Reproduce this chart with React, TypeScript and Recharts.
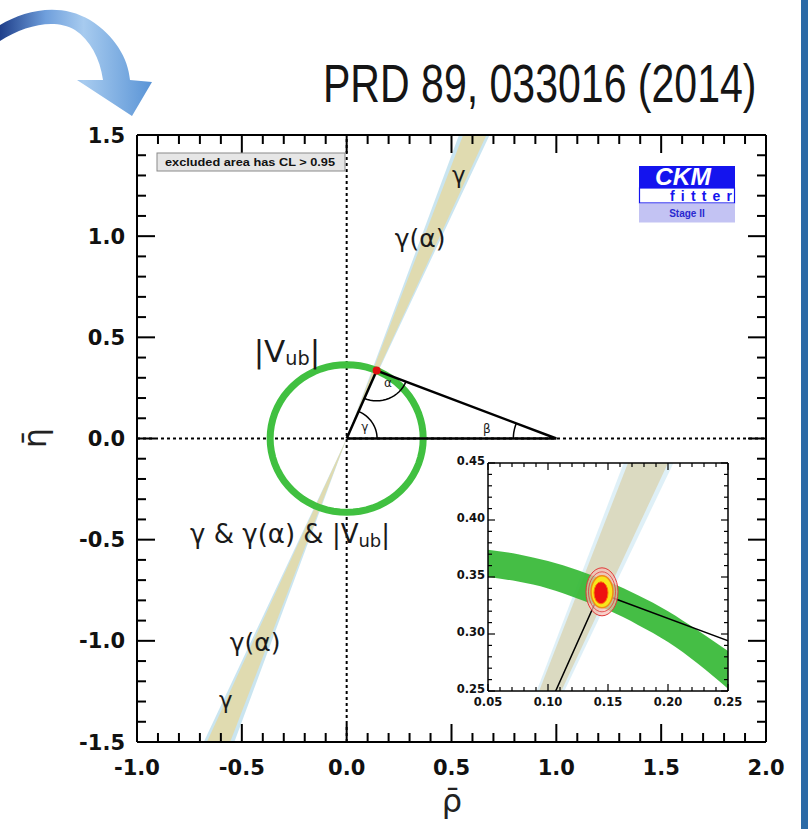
import React from "react"
import { ComposedChart, Area, Line, XAxis, YAxis, ReferenceLine, ReferenceDot, CartesianGrid } from "recharts"

// axis ticks (major every 0.5 / 0.05, minor every 0.1 / 0.01)
const rhoTicks = [-1.0, -0.9, -0.8, -0.7, -0.6, -0.5, -0.4, -0.3, -0.2, -0.1, 0.0, 0.1, 0.2, 0.3, 0.4, 0.5, 0.6, 0.7, 0.8, 0.9, 1.0, 1.1, 1.2, 1.3, 1.4, 1.5, 1.6, 1.7, 1.8, 1.9, 2.0]
const etaTicks = [-1.5, -1.4, -1.3, -1.2, -1.1, -1.0, -0.9, -0.8, -0.7, -0.6, -0.5, -0.4, -0.3, -0.2, -0.1, 0.0, 0.1, 0.2, 0.3, 0.4, 0.5, 0.6, 0.7, 0.8, 0.9, 1.0, 1.1, 1.2, 1.3, 1.4, 1.5]
const insetRhoTicks = [0.05, 0.06, 0.07, 0.08, 0.09, 0.1, 0.11, 0.12, 0.13, 0.14, 0.15, 0.16, 0.17, 0.18, 0.19, 0.2, 0.21, 0.22, 0.23, 0.24, 0.25]
const insetEtaTicks = [0.25, 0.26, 0.27, 0.28, 0.29, 0.3, 0.31, 0.32, 0.33, 0.34, 0.35, 0.36, 0.37, 0.38, 0.39, 0.4, 0.41, 0.42, 0.43, 0.44, 0.45]

// unitarity triangle apex and |Vub| ring
const apex = { rho: 0.143, eta: 0.336 }
const vubRadius = 0.365

// gamma wedge through the origin: eta range [low, high] at given rho
const gammaBandRho = [-0.8, 0, 0.8]
const gammaBandOuter = [[-2.24, -1.76], [0, 0], [1.76, 2.24]]
const gammaAlphaBand = [[-2.16, -1.8], [0, 0], [1.8, 2.16]]

// inset: |Vub| band and gamma wedge
const insetVubRho = [0.05, 0.075, 0.1, 0.125, 0.15, 0.175, 0.2, 0.225, 0.25]
const insetVubLow = [0.350, 0.346, 0.340, 0.331, 0.321, 0.308, 0.293, 0.274, 0.252]
const insetVubHigh = [0.374, 0.370, 0.364, 0.356, 0.346, 0.334, 0.320, 0.303, 0.285]
const insetBandRho = [0.08, 0.22]
const insetBandOuter = [[0.176, 0.221], [0.484, 0.607]]
const insetBandInner = [[0.18, 0.216], [0.495, 0.594]]

const ring = Array.from({ length: 73 }, (_, i) => {
  const a = (i / 72) * 2 * Math.PI
  return { rho: vubRadius * Math.cos(a), eta: vubRadius * Math.sin(a) }
})

const arc = (cRho: number, cEta: number, r: number, a0: number, a1: number) =>
  Array.from({ length: 17 }, (_, i) => {
    const a = ((a0 + ((a1 - a0) * i) / 16) * Math.PI) / 180
    return { rho: cRho + r * Math.cos(a), eta: cEta + r * Math.sin(a) }
  })

const dirO = (Math.atan2(-apex.eta, -apex.rho) * 180) / Math.PI + 360
const dirB = (Math.atan2(-apex.eta, 1 - apex.rho) * 180) / Math.PI + 360
const gammaArc = arc(0, 0, 0.145, 0, (Math.atan2(apex.eta, apex.rho) * 180) / Math.PI)
const alphaArc = arc(apex.rho, apex.eta, 0.15, dirO, dirB)
const betaArc = arc(1, 0, 0.205, 180 - (Math.atan2(apex.eta, 1 - apex.rho) * 180) / Math.PI, 180)

const triangle = [{ rho: 0, eta: 0 }, apex, { rho: 1, eta: 0 }, { rho: 0, eta: 0 }]

const toBand = (xs: number[], ys: number[][]) => xs.map((rho, i) => ({ rho, band: ys[i] }))
const mainOuter = toBand(gammaBandRho, gammaBandOuter)
const mainInner = toBand(gammaBandRho, gammaAlphaBand)
const insetOuter = toBand(insetBandRho, insetBandOuter)
const insetInner = toBand(insetBandRho, insetBandInner)
const insetVub = insetVubRho.map((rho, i) => ({ rho, band: [insetVubLow[i], insetVubHigh[i]] }))

const isMajor = (v: number, step: number) => Math.abs(v / step - Math.round(v / step)) < 1e-6

// ticks point inwards; axis boxes are 1px so the tick anchor sits on the frame
function makeTick(side: string, step: number, long: number, short: number, sw: number, font: number, digits: number, gap: number, lift = 0) {
  return (p: any) => {
    const v = p.payload.value
    const big = isMajor(v, step)
    const len = big ? long : short
    let x2 = p.x
    let y2 = p.y
    if (side === "bottom") y2 = p.y - len
    if (side === "top") y2 = p.y + len
    if (side === "left") x2 = p.x + len
    if (side === "right") x2 = p.x - len
    const txt = { fontFamily: "DejaVu Sans", fontWeight: 700, fontSize: font, fill: "#111" }
    return (
      <g>
        <line x1={p.x} y1={p.y} x2={x2} y2={y2} stroke="#000" strokeWidth={sw} />
        {big && font > 0 && side === "bottom" && (
          <text x={p.x} y={p.y + gap} textAnchor="middle" {...txt}>{v.toFixed(digits)}</text>
        )}
        {big && font > 0 && side === "left" && (
          <text x={p.x - gap} y={p.y + font * 0.36 - lift} textAnchor="end" {...txt}>{v.toFixed(digits)}</text>
        )}
      </g>
    )
  }
}

const label = (node: React.ReactNode, size: number) => (p: any) => (
  <text x={p.cx} y={p.cy} textAnchor="middle" dominantBaseline="central" fontFamily="DejaVu Sans" fontSize={size} fill="#1a1a1a">
    {node}
  </text>
)

const vub = (size: number) => (
  <>
    |V<tspan fontSize={size * 0.62} dy={size * 0.22}>ub</tspan>
    <tspan dy={-size * 0.22}>|</tspan>
  </>
)

const contourShape = (p: any) => (
  <g>
    <ellipse cx={p.cx} cy={p.cy} rx={16} ry={24} fill="#f6bdb4" fillOpacity={0.7} stroke="#e03a3a" strokeWidth={1} />
    <ellipse cx={p.cx} cy={p.cy} rx={13.5} ry={20} fill="none" stroke="#e03a3a" strokeWidth={0.8} />
    <ellipse cx={p.cx} cy={p.cy} rx={11} ry={16} fill="#f7e61c" stroke="#f08a1a" strokeWidth={1.5} />
    <ellipse cx={p.cx - 1} cy={p.cy + 1} rx={7} ry={11} fill="#ee1111" stroke="#ff7a00" strokeWidth={1} />
  </g>
)

const frame = { stroke: "#000", strokeWidth: 2 }
const insetFrame = { stroke: "#000", strokeWidth: 1.5 }

export default function App() {
  return (
    <div style={{ position: "absolute", left: 0, top: 0, width: 808, height: 829, background: "#fff", overflow: "hidden" }}>
      <svg width={808} height={829} style={{ position: "absolute", left: 0, top: 0 }}>
        <defs>
          <linearGradient id="arrowGrad" x1="0" y1="0" x2="1" y2="0">
            <stop offset="0" stopColor="#1f3f8a" />
            <stop offset="0.3" stopColor="#6f9fdc" />
            <stop offset="0.55" stopColor="#a7cbef" />
            <stop offset="1" stopColor="#5a94d6" />
          </linearGradient>
        </defs>
        <path d="M0,25 C25,10 60,2 90,20 C115,36 128,58 130,80 L152,82 L132,116 L77,80 L103,80 C100,58 90,40 75,30 C55,18 25,25 0,41 Z" fill="url(#arrowGrad)" />
        <rect x={801} y={0} width={7} height={829} fill="#2b6aa6" />
        <text x={452} y={812} textAnchor="middle" fontFamily="DejaVu Sans" fontSize={32} fill="#222">ρ̄</text>
        <text x={0} y={0} transform="translate(46,438) rotate(-90)" textAnchor="middle" fontFamily="DejaVu Sans" fontSize={32} fill="#222">η̄</text>
      </svg>
      <div style={{ position: "absolute", left: 323, top: 52, fontFamily: "Liberation Sans", fontSize: 54, lineHeight: "62px", color: "#151515", whiteSpace: "nowrap", transform: "scaleX(0.76)", transformOrigin: "0 0" }}>
        PRD 89, 033016 (2014)
      </div>

      <ComposedChart width={808} height={829} margin={{ top: 134, right: 41, bottom: 86, left: 136 }} style={{ position: "absolute", left: 0, top: 0 }}>
        <XAxis xAxisId="b" type="number" dataKey="rho" domain={[-1, 2]} ticks={rhoTicks} interval={0} height={1} tickSize={0} tickMargin={0} allowDataOverflow tickLine={false} axisLine={frame} tick={makeTick("bottom", 0.5, 18, 9, 2, 21, 1, 33)} />
        <XAxis xAxisId="t" orientation="top" type="number" dataKey="rho" domain={[-1, 2]} ticks={rhoTicks} interval={0} height={1} tickSize={0} tickMargin={0} allowDataOverflow tickLine={false} axisLine={frame} tick={makeTick("top", 0.5, 18, 9, 2, 0, 1, 0)} />
        <YAxis yAxisId="l" type="number" domain={[-1.5, 1.5]} ticks={etaTicks} interval={0} width={1} tickSize={0} tickMargin={0} allowDataOverflow tickLine={false} axisLine={frame} tick={makeTick("left", 0.5, 18, 9, 2, 21, 1, 12)} />
        <YAxis yAxisId="r" orientation="right" type="number" domain={[-1.5, 1.5]} ticks={etaTicks} interval={0} width={1} tickSize={0} tickMargin={0} allowDataOverflow tickLine={false} axisLine={frame} tick={makeTick("right", 0.5, 18, 9, 2, 0, 1, 0)} />

        <ReferenceLine xAxisId="b" yAxisId="l" x={0} stroke="#000" strokeWidth={2} strokeDasharray="3 3" />
        <ReferenceLine xAxisId="b" yAxisId="l" y={0} stroke="#000" strokeWidth={2} strokeDasharray="3 3" />

        <Line xAxisId="b" yAxisId="l" data={ring} dataKey="eta" type="linear" stroke="#40c040" strokeWidth={7} dot={false} isAnimationActive={false} />
        <Area xAxisId="b" yAxisId="l" data={mainOuter} dataKey="band" type="linear" stroke="none" fill="#c4e2ee" fillOpacity={0.9} isAnimationActive={false} />
        <Area xAxisId="b" yAxisId="l" data={mainInner} dataKey="band" type="linear" stroke="none" fill="#e2d9a9" fillOpacity={0.9} isAnimationActive={false} />

        <Line xAxisId="b" yAxisId="l" data={triangle} dataKey="eta" type="linear" stroke="#000" strokeWidth={2.5} dot={false} isAnimationActive={false} />
        <Line xAxisId="b" yAxisId="l" data={gammaArc} dataKey="eta" type="linear" stroke="#000" strokeWidth={1.5} dot={false} isAnimationActive={false} />
        <Line xAxisId="b" yAxisId="l" data={alphaArc} dataKey="eta" type="linear" stroke="#000" strokeWidth={1.5} dot={false} isAnimationActive={false} />
        <Line xAxisId="b" yAxisId="l" data={betaArc} dataKey="eta" type="linear" stroke="#000" strokeWidth={1.5} dot={false} isAnimationActive={false} />

        <ReferenceDot xAxisId="b" yAxisId="l" x={apex.rho} y={apex.eta} r={4} fill="#e01010" stroke="none" />

        <ReferenceDot xAxisId="b" yAxisId="l" x={0.535} y={1.3} r={0} shape={label("γ", 23)} />
        <ReferenceDot xAxisId="b" yAxisId="l" x={0.35} y={0.99} r={0} shape={label("γ(α)", 25)} />
        <ReferenceDot xAxisId="b" yAxisId="l" x={-0.285} y={0.43} r={0} shape={label(vub(31), 31)} />
        <ReferenceDot xAxisId="b" yAxisId="l" x={-0.27} y={-0.47} r={0} shape={label(<>γ &amp; γ(α) &amp; {vub(29)}</>, 26)} />
        <ReferenceDot xAxisId="b" yAxisId="l" x={-0.437} y={-1.01} r={0} shape={label("γ(α)", 25)} />
        <ReferenceDot xAxisId="b" yAxisId="l" x={-0.576} y={-1.29} r={0} shape={label("γ", 23)} />
        <ReferenceDot xAxisId="b" yAxisId="l" x={0.197} y={0.272} r={0} shape={label("α", 12)} />
        <ReferenceDot xAxisId="b" yAxisId="l" x={0.087} y={0.058} r={0} shape={label("γ", 12)} />
        <ReferenceDot xAxisId="b" yAxisId="l" x={0.669} y={0.045} r={0} shape={label("β", 12)} />
      </ComposedChart>

      <div style={{ position: "absolute", left: 438, top: 443 }}>
        <ComposedChart width={305} height={273} margin={{ top: 19, right: 14, bottom: 24, left: 49 }}>
          <CartesianGrid xAxisId="b" yAxisId="l" horizontal={false} vertical={false} fill="#fff" />
          <XAxis xAxisId="b" type="number" dataKey="rho" domain={[0.05, 0.25]} ticks={insetRhoTicks} interval={0} height={1} tickSize={0} tickMargin={0} allowDataOverflow tickLine={false} axisLine={insetFrame} tick={makeTick("bottom", 0.05, 7, 4, 1.2, 11.5, 2, 15)} />
          <XAxis xAxisId="t" orientation="top" type="number" dataKey="rho" domain={[0.05, 0.25]} ticks={insetRhoTicks} interval={0} height={1} tickSize={0} tickMargin={0} allowDataOverflow tickLine={false} axisLine={insetFrame} tick={makeTick("top", 0.05, 7, 4, 1.2, 0, 2, 0)} />
          <YAxis yAxisId="l" type="number" domain={[0.25, 0.45]} ticks={insetEtaTicks} interval={0} width={1} tickSize={0} tickMargin={0} allowDataOverflow tickLine={false} axisLine={insetFrame} tick={makeTick("left", 0.05, 7, 4, 1.2, 11.5, 2, 3, 2)} />
          <YAxis yAxisId="r" orientation="right" type="number" domain={[0.25, 0.45]} ticks={insetEtaTicks} interval={0} width={1} tickSize={0} tickMargin={0} allowDataOverflow tickLine={false} axisLine={insetFrame} tick={makeTick("right", 0.05, 7, 4, 1.2, 0, 2, 0)} />

          <Area xAxisId="b" yAxisId="l" data={insetOuter} dataKey="band" type="linear" stroke="none" fill="#c9e6f2" isAnimationActive={false} />
          <Area xAxisId="b" yAxisId="l" data={insetInner} dataKey="band" type="linear" stroke="none" fill="#d8cc9c" isAnimationActive={false} />
          <Area xAxisId="b" yAxisId="l" data={insetVub} dataKey="band" type="monotone" stroke="none" fill="#35b935" fillOpacity={0.92} isAnimationActive={false} />
          <ReferenceDot xAxisId="b" yAxisId="l" x={0.145} y={0.337} r={0} shape={contourShape} />
          <Line xAxisId="b" yAxisId="l" data={triangle} dataKey="eta" type="linear" stroke="#000" strokeWidth={1.5} dot={false} isAnimationActive={false} />
        </ComposedChart>
      </div>

      <svg width={808} height={829} style={{ position: "absolute", left: 0, top: 0, pointerEvents: "none" }}>
        <rect x={157} y={153} width={188} height={18} fill="#e6e6e6" stroke="#8a8a8a" strokeWidth={1} />
        <text x={165} y={166} fontFamily="Liberation Sans" fontWeight={700} fontSize={10} textLength={170} lengthAdjust="spacingAndGlyphs" fill="#111">
          excluded area has CL &gt; 0.95
        </text>
        <rect x={639} y={166} width={96} height={22} fill="#1414ee" />
        <text x={655} y={185} fontFamily="Liberation Sans" fontStyle="italic" fontWeight={700} fontSize={23} textLength={56} lengthAdjust="spacingAndGlyphs" fill="#fff">CKM</text>
        <rect x={639.5} y={188} width={95} height={15} fill="#fff" stroke="#1414ee" strokeWidth={1.2} />
        <text x={670} y={201} fontFamily="Liberation Sans" fontWeight={700} fontSize={14} textLength={62} lengthAdjust="spacing" fill="#1414ee">fitter</text>
        <rect x={639} y={203.5} width={96} height={19} fill="#c3c3f3" />
        <text x={687} y={217} textAnchor="middle" fontFamily="Liberation Sans" fontWeight={700} fontSize={10} fill="#2a2ad0">Stage II</text>
      </svg>
    </div>
  )
}
